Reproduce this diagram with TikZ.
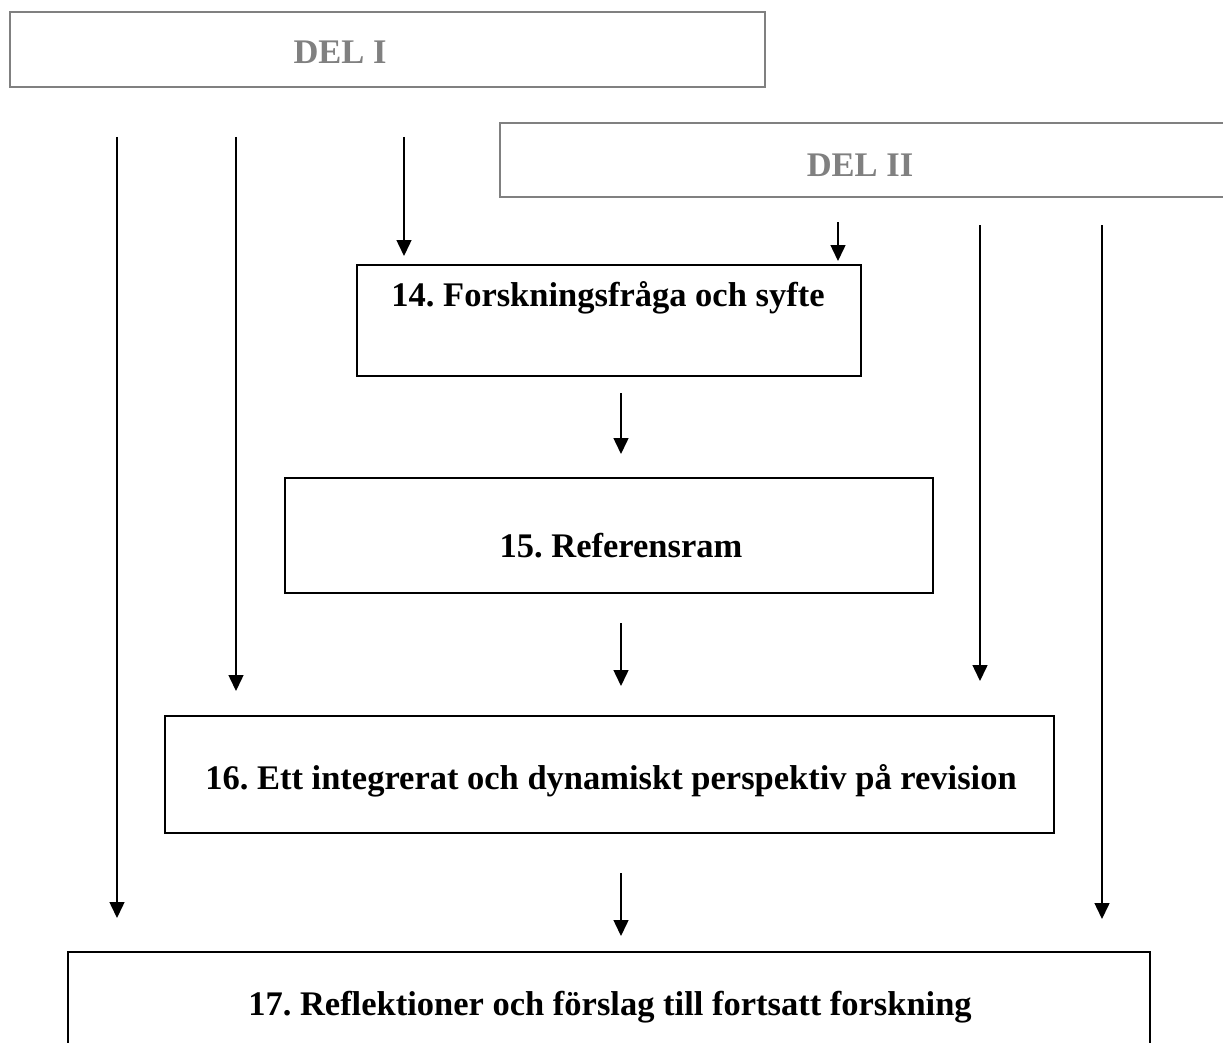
\documentclass[tikz,border=0pt]{standalone}
\usepackage{fontspec}
\setmainfont{Liberation Serif}
\usetikzlibrary{arrows.meta}
\definecolor{partgray}{RGB}{128,128,128}
\frenchspacing
\begin{document}
\begin{tikzpicture}[x=1pt,y=-1pt,
  partbox/.style={draw=partgray,line width=2pt,inner sep=0pt},
  stagebox/.style={draw=black,line width=1.8pt,inner sep=0pt},
  parttext/.style={text=partgray,font=\fontsize{34.5}{40}\selectfont\bfseries,anchor=base,inner sep=0pt},
  stagetext/.style={font=\fontsize{34.5}{40}\selectfont\bfseries,anchor=base,inner sep=0pt},
  flow/.style={line width=1.5pt,-{Triangle[width=15pt,length=16pt]}}]
\clip (0,0) rectangle (1223,1043);

% part frames
\node[partbox,minimum width=755pt,minimum height=75pt] (delI) at (387.5,49.5) {};
\node[parttext] (delIt) at (340,64) {DEL I};
\node[partbox,minimum width=740pt,minimum height=74pt] (delII) at (870,160) {};
\node[parttext] (delIIt) at (860,177) {DEL II};

% stage frames
\node[stagebox,minimum width=504pt,minimum height=111pt] (s14) at (609,320.5) {};
\node[stagetext] (s14t) at (608,306) {14. Forskningsfråga och syfte};
\node[stagebox,minimum width=648pt,minimum height=115pt] (s15) at (609,535.5) {};
\node[stagetext] (s15t) at (621,557) {15. Referensram};
\node[stagebox,minimum width=889pt,minimum height=117pt] (s16) at (609.5,774.5) {};
\node[stagetext] (s16t) at (611,789) {16. Ett integrerat och dynamiskt perspektiv på revision};
\node[stagebox,minimum width=1082pt,minimum height=160pt] (s17) at (609,1032) {};
\node[stagetext] (s17t) at (610,1015) {17. Reflektioner och förslag till fortsatt forskning};

% arrow end points
\coordinate (a1s) at (117,137);  \coordinate (a1e) at (117,918);
\coordinate (a2s) at (236,137);  \coordinate (a2e) at (236,691);
\coordinate (a3s) at (404,137);  \coordinate (a3e) at (404,256);
\coordinate (b1s) at (838,222);  \coordinate (b1e) at (838,261);
\coordinate (b2s) at (980,225);  \coordinate (b2e) at (980,681);
\coordinate (b3s) at (1102,225); \coordinate (b3e) at (1102,919);
\coordinate (c1s) at (621,393);  \coordinate (c1e) at (621,454);
\coordinate (c2s) at (621,623);  \coordinate (c2e) at (621,686);
\coordinate (c3s) at (621,873);  \coordinate (c3e) at (621,936);

\draw[flow] (a1s) -- (a1e);
\draw[flow] (a2s) -- (a2e);
\draw[flow] (a3s) -- (a3e);
\draw[flow] (b1s) -- (b1e);
\draw[flow] (b2s) -- (b2e);
\draw[flow] (b3s) -- (b3e);
\draw[flow] (c1s) -- (c1e);
\draw[flow] (c2s) -- (c2e);
\draw[flow] (c3s) -- (c3e);
\end{tikzpicture}
\end{document}
